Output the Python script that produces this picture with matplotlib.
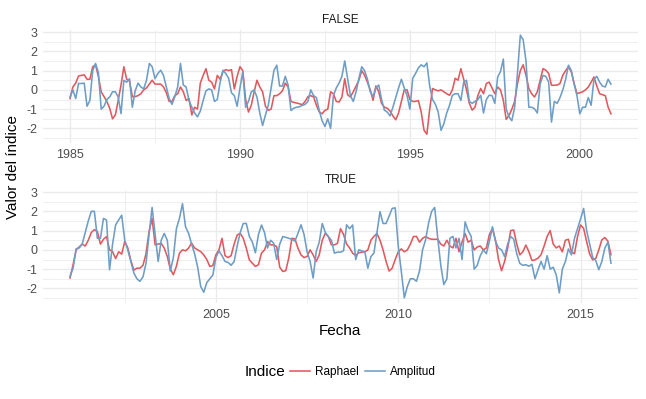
import numpy as np
import pandas as pd
import matplotlib
matplotlib.use("Agg")
import matplotlib.pyplot as plt
from matplotlib.lines import Line2D

plt.rcParams['font.family'] = ['Liberation Sans', 'DejaVu Sans']

# ---------------- data ----------------
series_names = ["Raphael", "Amplitud"]
facet_labels = ["FALSE", "TRUE"]

start_false = "1985-01-01"
start_true = "2001-01-01"

raphael_false = [
    -0.45, 0.15, 0.35, 0.72, 0.75, 0.78, 0.55, 0.55, 1.2, 1.3, 0.7, -0.1,
    -0.35, -0.6, -0.95, -1.5, -1.3, -0.55, 0.25, 1.2, 0.55, 0.45, -0.35, -0.35,
    -0.3, -0.2, 0.0, 0.1, 0.3, 0.5, 0.3, 0.3, 0.3, 0.15, -0.15, -0.6,
    -0.6, -0.3, -0.2, 0.15, -0.1, -0.55, -0.45, -1.3, -0.9, -1.0, 0.35, 0.75,
    1.1, 0.5, 0.4, 0.05, 0.75, 0.55, 0.95, 1.05, 1.0, 1.05, 0.05, 0.7,
    1.2, 1.0, -0.5, -1.15, -0.8, -0.1, 0.5, 0.15, -0.1, -0.85, -1.06, -1.0,
    -0.3, -0.3, -0.2, -0.05, 0.35, 0.15, -0.6, -0.65, -0.68, -0.72, -0.77, -0.6,
    -0.35, -0.3, -0.37, -0.8, -1.15, -1.24, -1.06, -1.0, -0.1, -0.2, -0.6, -0.63,
    -0.37, 0.58, -0.25, -0.37, -0.1, 0.2, 0.5, 1.0, 0.76, 0.4, 0.0, -0.54,
    0.2, -0.1, -0.7, -0.9, -0.95, -1.1, -1.35, -1.55, -1.2, -0.6, 0.0, 0.0,
    -0.5, -0.6, -0.6, -0.55, -1.15, -2.1, -2.3, -1.0, 0.07, 0.0, -0.05, 0.0,
    -0.1, -0.2, -0.28, 0.0, 0.6, 0.5, 1.1, 0.55, 0.0, -0.7, -1.05, -0.9,
    -0.3, 0.07, -0.2, 0.33, 0.4, 0.1, -0.2, 0.15, 0.0, -0.54, -1.53, -1.33,
    -1.0, -0.6, 0.33, 1.0, 1.3, 0.76, 0.07, -0.2, -0.37, -0.1, 0.5, 1.1,
    1.02, 0.85, 0.24, 0.24, 0.25, 0.33, 0.76, 1.0, 1.2, 0.93, 0.33, -0.2,
    -0.15, -0.1, 0.0, 0.15, 0.4, 0.67, 0.2, -0.2, -0.25, -0.3, -0.9, -1.24,
]

amplitud_false = [
    -0.37, 0.0, -0.45, 0.33, 0.33, 0.35, -0.85, -0.55, 1.0, 1.37, 0.9, -1.0,
    -0.85, -0.5, -0.37, -0.1, -0.1, -0.37, -1.23, 0.5, 0.4, 0.58, -0.9, -0.05,
    0.35, 0.15, 0.05, 0.5, 1.37, 1.2, 0.58, 0.85, 1.02, 0.75, 0.15, -0.45,
    -0.75, -0.35, 0.15, 1.37, 0.25, 0.15, -0.55, -0.9, -1.2, -1.4, -1.1, -0.55,
    -0.05, 0.05, 0.0, -0.6, -0.5, 0.4, 1.02, 0.85, 0.6, -0.15, -0.3, -0.85,
    0.1, 0.93, -0.9, -0.6, -0.1, 0.0, -0.37, -1.2, -1.85, -1.3, -0.8, 0.1,
    1.0, 1.28, 0.2, 0.2, 0.7, 0.25, -1.07, -0.95, -0.9, -0.88, -0.8, -0.75,
    -0.6, 0.0, -0.3, -0.4, -1.07, -1.6, -1.9, -1.5, -2.0, -0.3, 0.1, 0.35,
    0.7, 1.5, 0.6, -0.3, -0.6, -0.1, 0.6, 1.2, 1.0, 0.55, -0.1, -0.35,
    0.1, 0.25, -0.5, -1.05, -1.15, -1.35, -0.9, -0.4, 0.1, 0.55, 0.1, -0.3,
    -1.0, 0.6, 0.85, 1.14, 1.3, 1.2, 1.4, 0.2, -0.5, -0.75, -1.15, -2.1,
    -1.75, -1.2, -0.8, -0.28, -0.2, -0.2, -0.55, 0.4, 0.5, -0.6, -0.7, -0.6,
    -0.5, -0.28, -1.2, -0.5, -0.28, -0.3, -0.7, 0.67, 0.95, 1.6, -1.0, -1.4,
    -1.6, -0.9, 0.9, 2.84, 2.6, 1.5, -0.9, -0.9, -0.98, -1.2, 0.3, 0.75,
    0.7, 0.4, -1.67, -0.6, -0.7, -0.4, 0.0, 0.55, 1.28, 1.0, 0.3, -0.3,
    -1.24, -0.9, -0.9, -0.4, -0.8, 0.55, 0.7, 0.4, 0.2, 0.15, 0.55, 0.3,
]

raphael_true = [
    -1.46, -0.77, 0.0, 0.15, 0.3, 0.2, 0.5, 0.9, 1.05, 0.95, 0.3, 0.55,
    0.69, 0.0, -0.09, -0.45, -0.1, -0.22, 0.43, 0.1, -0.55, -1.05, -0.95, -0.95,
    -0.8, -0.2, 0.95, 1.63, 0.26, 0.3, 0.34, 0.09, -0.34, -1.0, -1.29, -0.85,
    -0.17, 0.0, -0.05, 0.09, 0.35, 0.1, 0.0, -0.09, -0.26, -0.5, -0.86, -0.81,
    -0.26, 0.0, 0.6, -0.3, -0.4, -0.3, 0.3, 0.77, 0.86, 0.6, 0.09, -0.52,
    -0.69, -0.86, -0.77, -0.17, 0.0, 0.43, 0.26, 0.26, 0.17, -0.9, -1.12, -1.08,
    -0.4, 0.6, 0.57, 0.09, -0.26, -0.4, -0.34, 0.0, -0.26, -0.6, -0.26, 0.5,
    0.86, 0.69, 0.26, 0.26, 0.34, 1.1, 0.8, 0.3, 0.1, -0.17, -0.3, -0.15,
    -0.12, -0.1, 0.0, 0.5, 0.7, 0.85, 0.5, 0.0, -0.6, -1.1, -0.95, -0.5,
    -0.1, 0.05, -0.1, 0.0, 0.3, 0.69, 0.7, 0.4, 0.6, 0.69, 0.6, 0.55,
    0.55, 0.55, 0.3, 0.2, 0.5, 0.2, 0.1, 0.6, -0.1, 0.4, 0.85, 0.4,
    0.5, 0.0, 0.15, 0.2, 0.0, 0.1, 0.8, 1.1, 0.5, -0.5, -1.08, -0.6,
    0.09, 1.0, 1.03, 0.3, -0.26, -0.1, 0.25, -0.1, -0.55, -0.52, -0.43, -0.25,
    0.2, 0.7, 1.0, 0.3, 0.1, 0.2, -0.1, 0.5, 0.55, -0.1, -0.2, 0.69,
    1.29, 1.12, 0.43, -0.22, -0.52, -0.45, 0.0, 0.52, 0.64, 0.45, -0.25,
]

amplitud_true = [
    -1.37, -0.95, 0.05, 0.1, 0.3, 0.9, 1.5, 2.0, 2.0, 0.6, 0.6, 1.63,
    1.55, -1.03, 0.3, 1.3, 1.55, 1.8, 0.5, 0.0, -0.6, -1.2, -1.5, -1.63,
    -1.4, -0.7, 0.8, 2.2, 0.8, -0.6, 0.5, 0.85, 0.5, -1.1, -0.4, 1.1,
    1.63, 2.4, 1.2, 0.86, 0.3, -0.2, -0.9, -1.9, -2.2, -1.7, -1.5, -1.3,
    -0.4, -0.05, -0.3, -0.6, -0.65, -0.8, -0.6, 0.2, 0.9, 1.37, 1.37, 0.7,
    0.4, -0.15, 0.8, 1.29, 0.9, 0.1, 0.5, 0.35, -0.5, 0.3, 0.69, 0.65,
    0.6, 0.55, 0.45, 0.86, 1.3, 0.8, -0.1, -0.6, -1.46, -0.1, 0.4, 1.37,
    0.9, 0.69, 0.5, -0.17, -0.12, -0.12, -0.05, 1.3, 1.1, 1.29, -0.5, 0.0,
    -0.05, -0.1, -0.95, -0.35, -0.17, 0.9, 1.98, 1.37, 1.37, 1.75, 2.15, 2.18,
    0.2, -1.1, -2.49, -1.9, -1.5, -1.5, -1.63, -1.1, 0.0, 0.52, 1.4, 2.0,
    2.2, 0.6, -0.8, -1.8, -1.5, 0.6, 0.7, 0.1, 0.6, -0.5, 1.45, 1.0,
    0.7, -1.0, -0.8, -0.3, 0.0, -0.2, 0.45, 1.2, 0.45, 0.1, 0.0, -0.35,
    0.3, 0.7, 0.55, -0.2, -0.7, -0.8, -0.77, -0.85, -0.75, -1.5, -1.03, -0.6,
    -1.0, -0.3, -1.0, -0.9, -1.3, -2.23, -1.0, -0.6, 0.05, -0.26, 0.6, 1.1,
    1.6, 2.15, 1.0, 0.3, -0.4, -0.55, -1.03, -0.6, 0.1, 0.4, -0.69,
]

x_ticks_false = [1985, 1990, 1995, 2000]
x_ticks_true = [2005, 2010, 2015]
y_ticks = [-2, -1, 0, 1, 2, 3]

colors = {"Raphael": "#E0595E", "Amplitud": "#6E9DC6"}


def decimal_years(start, n):
    d = pd.date_range(start, periods=n, freq="MS")
    return np.asarray(d.year + (d.month - 1) / 12.0, dtype=float)


panels = [
    (facet_labels[0], decimal_years(start_false, len(raphael_false)),
     raphael_false, amplitud_false, x_ticks_false),
    (facet_labels[1], decimal_years(start_true, len(raphael_true)),
     raphael_true, amplitud_true, x_ticks_true),
]

# shared y-limits with ggplot-like 5% expansion
all_vals = np.concatenate([raphael_false, amplitud_false, raphael_true, amplitud_true])
ymin, ymax = all_vals.min(), all_vals.max()
yr = ymax - ymin
ylim = (ymin - 0.05 * yr, ymax + 0.05 * yr)

W, H = 646, 399
fig = plt.figure(figsize=(W / 100, H / 100), dpi=100)

ax_boxes = [(43, 30, 638, 143), (43, 190, 638, 303)]
grid_col = "#EBEBEB"
tick_col = "#4D4D4D"

for (label, x, r, a, xt), (l, t, rr, b) in zip(panels, ax_boxes):
    ax = fig.add_axes([l / W, 1 - b / H, (rr - l) / W, (b - t) / H])
    ax.plot(x, r, color=colors["Raphael"], lw=1.15, zorder=3)
    ax.plot(x, a, color=colors["Amplitud"], lw=1.15, zorder=3)
    ax.set_xticks(xt)
    ax.set_xticklabels([str(v) for v in xt])
    ax.set_xticks([v - 2.5 for v in xt] + [xt[-1] + 2.5], minor=True)
    ax.set_yticks(y_ticks)
    ax.set_yticklabels([str(v) for v in y_ticks])
    ax.set_yticks([v + 0.5 for v in [-3] + y_ticks], minor=True)
    xr = x.max() - x.min()
    ax.set_xlim(x.min() - 0.05 * xr, x.max() + 0.05 * xr)
    ax.set_ylim(*ylim)
    ax.grid(which="major", color=grid_col, lw=1.0)
    ax.grid(which="minor", color=grid_col, lw=0.55)
    ax.set_axisbelow(True)
    for s in ax.spines.values():
        s.set_visible(False)
    ax.tick_params(which="both", length=0)
    ax.tick_params(axis="x", labelsize=9, labelcolor=tick_col, pad=4)
    ax.tick_params(axis="y", labelsize=9, labelcolor=tick_col, pad=4)
    ax.set_title(label, fontsize=8.5, color="#1A1A1A", pad=5)

fig.text(13 / W, 1 - 167 / H, "Valor del índice", rotation=90,
         ha="center", va="center", fontsize=11, color="black")
fig.text(340 / W, 1 - 331 / H, "Fecha", ha="center", va="center",
         fontsize=11, color="black")

fig.text(245 / W, 1 - 372 / H, "Indice", ha="left", va="center",
         fontsize=11, color="black")
handles = [Line2D([0], [0], color=colors[n], lw=1.15) for n in series_names]
fig.legend(handles, series_names, loc="center left",
           bbox_to_anchor=(290 / W, 1 - 372 / H), ncol=2, frameon=False,
           fontsize=8.5, handlelength=1.7, handletextpad=0.45,
           columnspacing=0.5, borderpad=0, borderaxespad=0)

fig.savefig("out.png", dpi=100, facecolor="white")
